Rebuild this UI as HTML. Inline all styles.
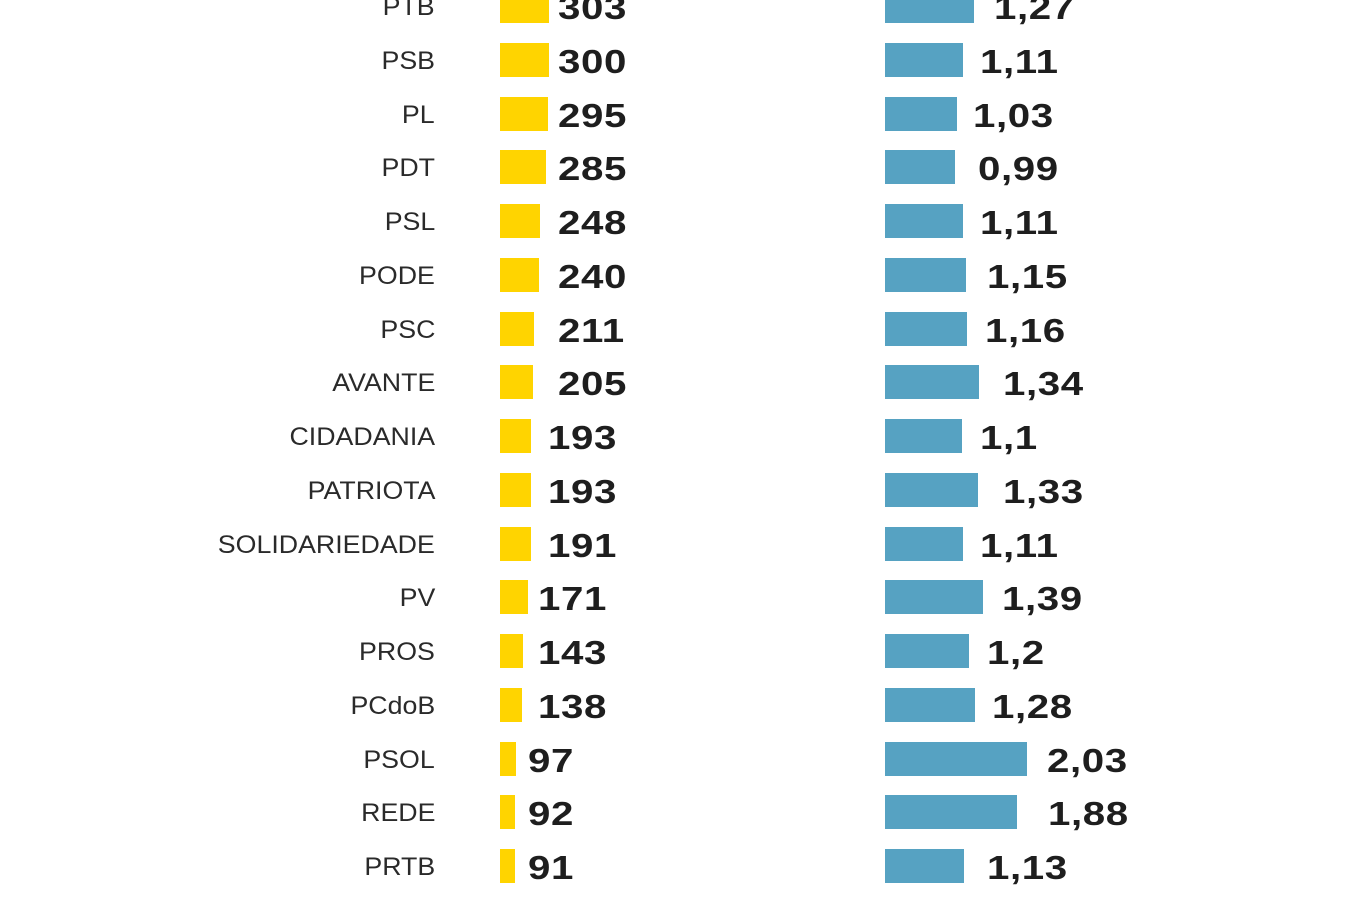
<!DOCTYPE html>
<html><head><meta charset="utf-8"><style>
body{margin:0;width:1366px;height:900px;background:#fff;overflow:hidden;position:relative;font-family:"Liberation Sans",sans-serif;color:#1e1e1e}
.n{position:absolute;right:931px;font-size:25px;line-height:34px;text-align:right;white-space:nowrap;transform:scaleX(1.07);transform-origin:right center;color:#2a2a2a}
.b{position:absolute;height:34px}
.y{background:#ffd400;left:500px}
.c{background:#56a2c2;left:885px}
.v{position:absolute;font-size:33px;font-weight:bold;line-height:34px;top:0;white-space:nowrap;letter-spacing:0.5px;transform:scaleX(1.22);transform-origin:left center}
</style></head><body>
<div id="r"></div>
<script>
var d=[["PTB",303,558,974,994,"1,27"],["PSB",300,558,963,980,"1,11"],["PL",295,558,957,973,"1,03"],["PDT",285,558,955,978,"0,99"],["PSL",248,558,963,980,"1,11"],["PODE",240,558,966,987,"1,15"],["PSC",211,558,967,985,"1,16"],["AVANTE",205,558,979,1003,"1,34"],["CIDADANIA",193,548,962,980,"1,1"],["PATRIOTA",193,548,978,1003,"1,33"],["SOLIDARIEDADE",191,548,963,980,"1,11"],["PV",171,538,983,1002,"1,39"],["PROS",143,538,969,987,"1,2"],["PCdoB",138,538,975,992,"1,28"],["PSOL",97,528,1027,1047,"2,03"],["REDE",92,528,1017,1048,"1,88"],["PRTB",91,528,964,987,"1,13"]];
var h="";
d.forEach(function(r,i){var t=Math.round(-10.7+53.73*i);var yw=Math.round(r[1]*0.162);
h+='<div class="n" style="top:'+(t+1)+'px">'+r[0]+'</div>';
h+='<div class="b y" style="top:'+t+'px;width:'+yw+'px"></div>';
h+='<div class="v" style="top:'+(t+2)+'px;left:'+r[2]+'px">'+r[1]+'</div>';
h+='<div class="b c" style="top:'+t+'px;width:'+(r[3]-885)+'px"></div>';
h+='<div class="v" style="top:'+(t+2)+'px;left:'+r[4]+'px">'+r[5]+'</div>';});
document.getElementById("r").innerHTML=h;
</script>
</body></html>
